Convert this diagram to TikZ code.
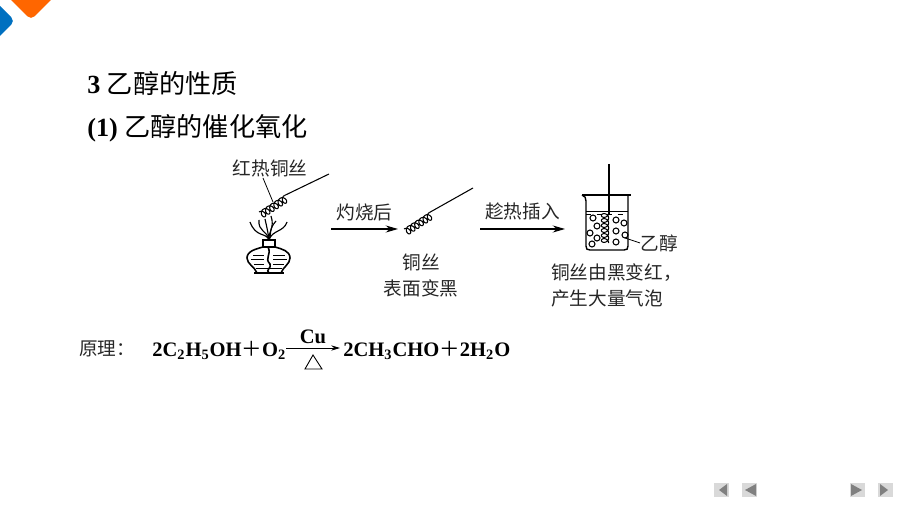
\documentclass[tikz,border=0pt]{standalone}
\usepackage{fontspec}
\setmainfont{Liberation Serif}
\newfontfamily\cjk{Noto Sans CJK SC}
\usetikzlibrary{positioning,arrows.meta}
\definecolor{logoblue}{HTML}{0070C0}
\definecolor{logoorange}{HTML}{FF6600}
\definecolor{btnface}{HTML}{D9D9D9}
\definecolor{btnmark}{HTML}{808080}
\tikzset{
  title/.style={inner sep=0pt, anchor=west, font=\fontsize{14.9}{16}\selectfont},
  lbl/.style={inner sep=0pt, font=\fontsize{10.6}{12}\selectfont\cjk, text=black!85},
  chem/.style={inner sep=0pt, font=\fontsize{11.7}{13}\selectfont\bfseries},
  wire/.style={line width=0.6pt},
  thin line/.style={line width=0.45pt},
  reaction/.style={-{Stealth[length=7pt,width=4pt]}, line width=0.6pt},
  btn/.style={fill=btnface, draw=none},
  coil/.pic={
    \draw[line width=0.6pt] plot[domain=0:2160, samples=200, smooth]
      ({\x/360*5+3*sin(\x)}, {-3.6*cos(\x)});
    \coordinate (-end) at (30,-3.6);
  }
}
\begin{document}
\begin{tikzpicture}[x=0.02cm,y=-0.02cm]
  \useasboundingbox (0,0) rectangle (900,506);
  %logo
  \begin{scope}
    \clip (0,0) rectangle (900,506);
    \fill[logoorange, rounded corners=3pt] (-1,-12) -- (31,20) -- (63,-12) -- cycle;
    \fill[logoblue, rounded corners=3pt] (-25,-19) -- (15,21) -- (-25,61) -- cycle;
  \end{scope}

  %titoli
  \node[title] (head) at (87,83.5) {\textbf{3} {\cjk 乙醇的性质}};
  \node[title] (sub) at (87,128.5) {\textbf{(1)} {\cjk 乙醇的催化氧化}};

  %lampada
  \pic (coilA) [rotate=33] at (261,215) {coil};
  \coordinate (wireA1) at (329,174);
  \draw[wire] (coilA-end) -- (wireA1);
  \node[lbl] (redwire) at (270,168) {红热铜丝};
  \coordinate (leadA0) at (263,178);
  \coordinate (leadA1) at (273,202);
  \draw[thin line] (leadA0) -- (leadA1);
  \draw[line width=0.9pt] (263,247) .. controls (256,249) and (247,251) .. (247,258)
    .. controls (247,264) and (255,267) .. (257,273) -- (281,273)
    .. controls (283,267) and (290,264) .. (290,258)
    .. controls (290,251) and (282,249) .. (275,247);
  \draw[line width=0.9pt, fill=white] (263,240) rectangle (275,247);
  \draw[line width=1.2pt] (254,273) -- (284,273);
  \draw[thin line] (253,255) -- (264,255) (273,255) -- (285,255)
    (251,259) -- (264,259) (273,259) -- (287,259)
    (254,264) -- (264,264) (273,264) -- (284,264)
    (256,268) -- (282,268);
  \draw[line width=0.9pt] (268,247) .. controls (272,255) and (264,258) .. (270,264)
    .. controls (272,268) and (265,270) .. (269,273);
  \foreach \tipx/\tipy/\ax/\ay/\bx/\by in {250/222/256/238/266/232, 259/220/258/232/267/230, 265/219/267/228/268/232,
      271/216/275/228/268/232, 276/221/268/230/272/234, 287/222/284/232/272/230}
    \draw[line width=0.65pt] (\tipx,\tipy) .. controls (\ax,\ay) and (\bx,\by) .. (269,240);

  %primo passo
  \coordinate (arrowA0) at (331,229);
  \coordinate (arrowA1) at (398,229);
  \draw[reaction] (arrowA0) -- (arrowA1) node[midway, above=4.5pt, lbl] (burn) {灼烧后};
  \pic (coilB) [rotate=33] at (406,232) {coil};
  \coordinate (wireB1) at (473,188);
  \draw[wire] (coilB-end) -- (wireB1);
  \node[lbl] (cu) at (421,262) {铜丝};
  \node[lbl] (black) at (421,288) {表面变黑};

  %secondo passo
  \coordinate (arrowB0) at (480,229);
  \coordinate (arrowB1) at (565,229);
  \draw[reaction] (arrowB0) -- (arrowB1) node[midway, above=4.5pt, lbl] (insert) {趁热插入};

  %becher
  \draw[line width=0.8pt] (582,195) -- (631,195);
  \draw[line width=0.8pt] (582,195) .. controls (585,196) and (586,198) .. (586,201)
    -- (586,246) .. controls (586,249) and (587,250) .. (590,250) -- (624,250)
    .. controls (627,250) and (628,249) .. (628,246) -- (628,195);
  \draw[thin line] (586,211) -- (628,211);
  \draw[thin line, dashed] (586,214) -- (628,214);
  \coordinate (rod0) at (609,164);
  \coordinate (rod1) at (609,214);
  \draw[wire] (rod0) -- (rod1);
  \pic (coilC) [rotate=-90] at (605,213) {coil};
  \foreach \bx/\by in {593/218, 597/226, 590/233, 597/238, 592/244, 616/220, 624/223, 616/231, 625/235, 616/242}
    \draw[line width=0.6pt] (\bx,\by) circle (3);
  \node[lbl] (ethanol) at (659,243) {乙醇};
  \coordinate (leadB) at (625,238);
  \draw[thin line] (leadB) -- (ethanol.west);
  \node[lbl, anchor=west] (resA) at (551,273) {铜丝由黑变红，};
  \node[lbl, anchor=west] (resB) at (551,298) {产生大量气泡};

  %reazione
  \node[lbl, anchor=west] (rule) at (79,349) {原理：};
  \node[chem, anchor=west] (lhs) at (152,350.5) {2C\textsubscript{2}H\textsubscript{5}OH{\cjk\mdseries ＋}O\textsubscript{2}};
  \node[chem, anchor=west] (rhs) at (343,350.5) {2CH\textsubscript{3}CHO{\cjk\mdseries ＋}2H\textsubscript{2}O};
  \coordinate (condL) at (286,348);
  \coordinate (condR) at (340,348);
  \draw[-{Stealth[length=5pt,width=3pt]}, line width=0.5pt] (condL) -- (condR);
  \node[chem] (catal) at (313,337) {Cu};
  \draw[line width=0.5pt] (313,355) -- (305,369) -- (322,369) -- cycle;

  %pulsanti
  \foreach \bx in {714,742,850,878}
    \fill[btn] (\bx,483) rectangle ++(15,14);
  \fill[btnmark] (727,484) -- (719,490) -- (727,496) -- cycle;
  \fill[btnmark] (756,484) -- (745,490) -- (756,496) -- cycle;
  \fill[btnmark] (851,484) -- (862,490) -- (851,496) -- cycle;
  \fill[btnmark] (880,484) -- (888,490) -- (880,496) -- cycle;
\end{tikzpicture}
\end{document}
